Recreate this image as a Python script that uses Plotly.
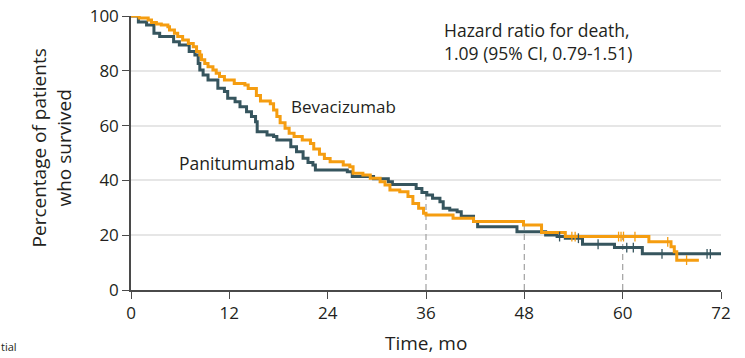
import plotly.graph_objects as go

# Kaplan-Meier overall survival steps (time in months, percentage surviving)
pan_time = [0, 0.9, 1.9, 2.8, 3.5, 5.2, 5.9, 7.1, 7.8, 8.2, 8.4, 8.8, 9.4, 10.6, 11.4,
            11.8, 12.7, 13.3, 14.1, 14.7, 15.2, 15.4, 16.6, 17.4, 17.8, 19.5, 20.2, 21.0,
            21.6, 22.2, 22.5, 26.4, 27.0, 29.6, 31.4, 31.9, 34.8, 35.5, 36.1, 36.8, 37.7,
            38.1, 38.9, 39.8, 40.3, 41.8, 42.3, 47.1, 50.6, 52.0, 53.0, 55.1, 59.0, 62.4, 72.0]
pan_surv = [100, 97.8, 96.7, 93.7, 92.5, 90.6, 89.4, 87.0, 85.8, 82.7, 80.3, 78.5, 76.6, 73.6, 72.4,
            70.0, 68.7, 66.9, 65.1, 63.3, 61.4, 57.8, 56.6, 56.0, 54.7, 52.3, 50.5, 48.1,
            46.5, 45.6, 43.8, 43.2, 41.4, 40.6, 39.5, 38.5, 37.0, 35.6, 34.7, 33.5, 32.2,
            29.8, 29.2, 28.6, 26.9, 25.0, 23.1, 21.3, 20.1, 19.5, 18.9, 16.7, 15.5, 13.2, 13.2]

bev_time = [0, 1.0, 2.1, 2.5, 3.1, 3.7, 4.5, 4.7, 5.3, 5.7, 6.3, 7.0, 7.6, 8.0, 8.4, 8.6,
            9.0, 9.4, 10.0, 10.4, 10.8, 11.4, 12.6, 13.9, 14.3, 15.3, 15.8, 17.0, 17.4, 17.8,
            18.2, 18.8, 19.3, 19.9, 20.9, 21.9, 22.3, 23.0, 23.6, 24.3, 25.9, 26.7, 27.1,
            28.3, 29.2, 30.4, 31.0, 31.6, 32.8, 33.8, 34.4, 35.1, 35.7, 36.0, 39.3, 41.8,
            47.9, 50.1, 53.0, 63.2, 65.9, 66.3, 66.6, 69.3]
bev_surv = [100, 99.3, 98.5, 97.6, 97.1, 96.7, 96.1, 94.9, 93.7, 92.5, 91.2, 90.0, 88.8, 87.0, 85.8, 84.0,
            82.7, 81.5, 80.3, 79.1, 77.9, 76.6, 75.4, 74.8, 73.5, 71.0, 69.0, 68.0, 65.7, 63.3,
            61.0, 59.0, 57.2, 56.0, 54.7, 53.5, 51.5, 49.5, 48.0, 46.8, 45.6, 45.0, 42.6,
            42.0, 40.8, 39.5, 38.3, 36.5, 35.9, 34.1, 31.6, 29.8, 28.0, 27.4, 26.2, 25.0,
            23.7, 21.0, 19.5, 17.6, 15.8, 14.0, 10.9, 10.9]

# Censoring marks
pan_cens = [52.3, 54.6, 57.0, 60.5, 61.3, 64.8, 70.3, 70.7]
bev_cens = [53.8, 54.2, 59.5, 59.8, 60.1, 61.5, 65.5, 67.8]

landmarks = [36, 48, 60]
x_ticks = [0, 12, 24, 36, 48, 60, 72]
y_ticks = [0, 20, 40, 60, 80, 100]

PAN_COLOR = "#36555e"
BEV_COLOR = "#f59d10"
TEXT = "#231f20"
FONT = "Open Sans"


def step_value(times, surv, t):
    val = surv[0]
    for ti, si in zip(times, surv):
        if ti <= t:
            val = si
    return val


fig = go.Figure()

# dashed landmark lines up to the higher of the two curves
for t in landmarks:
    top = max(step_value(pan_time, pan_surv, t), step_value(bev_time, bev_surv, t))
    fig.add_trace(go.Scatter(x=[t, t], y=[0, top], mode="lines",
                             line=dict(color="#a8a8a8", width=1.3, dash="6px,4px"),
                             hoverinfo="skip", showlegend=False, cliponaxis=False))

fig.add_trace(go.Scatter(x=pan_time, y=pan_surv, mode="lines", line_shape="hv",
                         line=dict(color=PAN_COLOR, width=3), name="Panitumumab",
                         showlegend=False, cliponaxis=False))
fig.add_trace(go.Scatter(x=bev_time, y=bev_surv, mode="lines", line_shape="hv",
                         line=dict(color=BEV_COLOR, width=3), name="Bevacizumab",
                         showlegend=False, cliponaxis=False))

fig.add_trace(go.Scatter(x=pan_cens, y=[step_value(pan_time, pan_surv, t) for t in pan_cens],
                         mode="markers", marker=dict(symbol="line-ns", size=7,
                                                     line=dict(color=PAN_COLOR, width=1.3)),
                         showlegend=False, hoverinfo="skip"))
fig.add_trace(go.Scatter(x=bev_cens, y=[step_value(bev_time, bev_surv, t) for t in bev_cens],
                         mode="markers", marker=dict(symbol="line-ns", size=7,
                                                     line=dict(color=BEV_COLOR, width=1.3)),
                         showlegend=False, hoverinfo="skip"))

fig.update_layout(
    width=745, height=358,
    margin=dict(l=131, r=24, t=16, b=68, autoexpand=False),
    plot_bgcolor="white", paper_bgcolor="white",
    font=dict(family=FONT, size=18, color=TEXT),
    xaxis=dict(range=[0, 72], tickvals=x_ticks, showgrid=False, zeroline=False,
               automargin=False,
               showline=True, linecolor="#4a4a4a", linewidth=1.5,
               ticks="outside", ticklen=7, tickcolor="#4a4a4a", tickwidth=1.3,
               tickfont=dict(size=17, color=TEXT)),
    yaxis=dict(range=[0, 100], tickvals=y_ticks, showgrid=True, gridcolor="#e6e6e6",
               gridwidth=1.5, zeroline=False, automargin=False,
               showline=True, linecolor="#4a4a4a", linewidth=1.5,
               ticks="outside", ticklen=7, tickcolor="#4a4a4a", tickwidth=1.3,
               tickfont=dict(size=17, color=TEXT)),
)

annotations = [
    dict(x=38.0, y=94.9, xref="x", yref="y", xanchor="left", yanchor="middle", align="left",
         text="Hazard ratio for death,", showarrow=False, font=dict(size=17.5)),
    dict(x=38.0, y=86.5, xref="x", yref="y", xanchor="left", yanchor="middle", align="left",
         text="1.09 (95% CI, 0.79-1.51)", showarrow=False, font=dict(size=17.5)),
    dict(x=19.3, y=66.8, xref="x", yref="y", xanchor="left", yanchor="middle",
         text="Bevacizumab", showarrow=False, font=dict(size=17)),
    dict(x=5.6, y=46.4, xref="x", yref="y", xanchor="left", yanchor="middle",
         text="Panitumumab", showarrow=False, font=dict(size=17.5)),
    dict(x=-0.134, y=0.52, xref="paper", yref="paper", xanchor="center", yanchor="middle",
         textangle=-90, text="Percentage of patients<br>who survived", showarrow=False,
         font=dict(size=19)),
    dict(x=0.5, y=-0.193, xref="paper", yref="paper", xanchor="center", yanchor="middle",
         text="Time, mo", showarrow=False, font=dict(size=19)),
    dict(x=-0.222, y=-0.238, xref="paper", yref="paper", xanchor="left", yanchor="bottom",
         text="tial", showarrow=False, borderpad=0, font=dict(size=11)),
]
fig.update_layout(annotations=annotations)

fig.write_html("out.html")
